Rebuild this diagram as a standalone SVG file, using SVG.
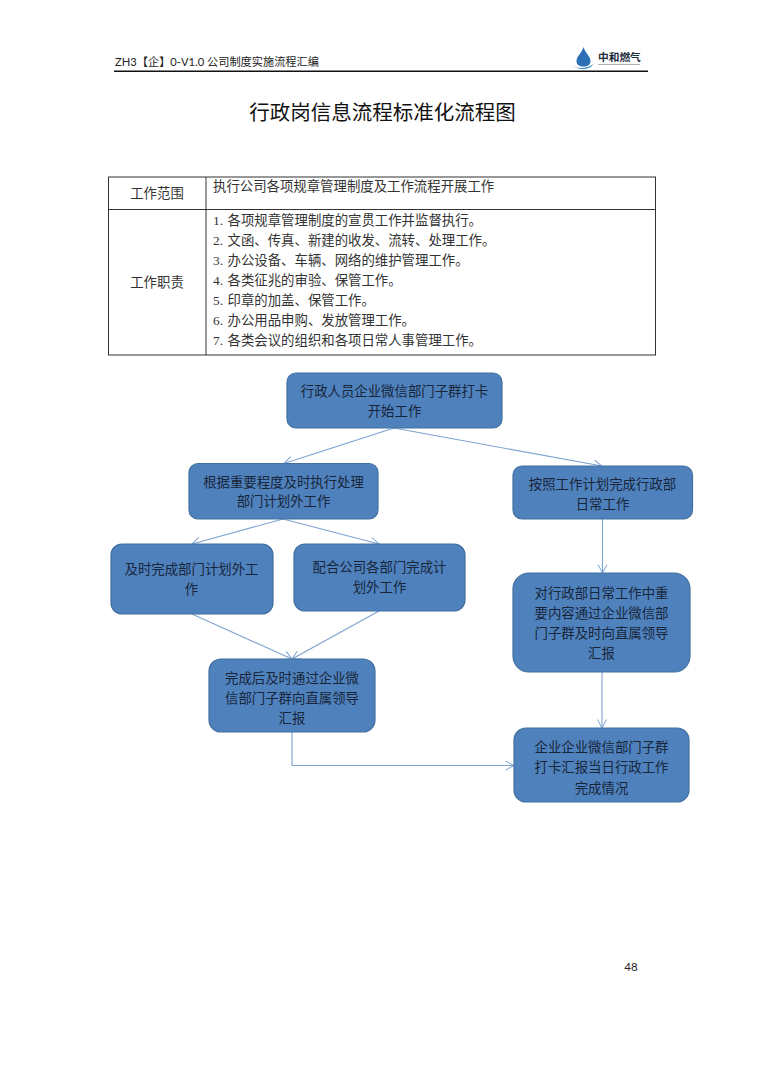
<svg xmlns="http://www.w3.org/2000/svg" width="764" height="1080" viewBox="0 0 764 1080">
<style>
text{font-family:"Noto Sans CJK SC","Liberation Sans",sans-serif;fill:#1f2a36}
.n{fill:#4f81bd;stroke:#41709f;stroke-width:1.2}
.t{font-size:13.4px;text-anchor:middle;fill:#17263a}
.c{font-size:13.4px;fill:#333}
.d{font-family:"Liberation Serif",serif}
.m{font-size:13.4px;text-anchor:middle;fill:#333}
.g{fill:none;stroke:#333;stroke-width:1}
.l{fill:none;stroke:#7ea3cf;stroke-width:1.1;marker-end:url(#a)}
</style>
<defs>
<marker id="a" viewBox="0 0 10 10" refX="9.500" refY="5" markerWidth="10" markerHeight="10" markerUnits="userSpaceOnUse" orient="auto"><path d="M1 0.500L9.500 5L1 9.500" fill="none" stroke="#7ea3cf" stroke-width="1"/></marker>
</defs>
<rect width="764" height="1080" fill="#fff"/>
<g id="header">
<text x="115" y="66" font-size="11.200" style="font-family:'Lato','Noto Sans CJK SC',sans-serif;fill:#222">ZH3【企】0-V1.0 公司制度实施流程汇编</text>
<rect x="114" y="70.500" width="534" height="1.500" fill="#111"/>
<path d="M583.500 47C585 53 590.500 56 590.500 61C590.500 65 587.500 66.500 583.500 66.500C579.500 66.500 576.500 65 576.500 61C576.500 56 582 53 583.500 47Z" fill="#2c6fb5"/>
<path d="M573 65.500C578 69.500 588 68.500 593 64C591 70 579 71 573 65.500Z" fill="#3f8fc9"/>
<text x="598" y="61" font-size="10.700" font-weight="700" style="fill:#1b2b3a">中和燃气</text>
<rect x="598" y="64" width="42" height="1" fill="#aab0b6"/>
</g>
<text x="382.500" y="120" font-size="20.500" text-anchor="middle" style="fill:#111">行政岗信息流程标准化流程图</text>
<g id="table">
<rect class="g" x="108.500" y="177" width="547" height="178"/>
<path class="g" d="M108.500 209.500H655.500M206 177V355"/>
<text class="m" x="157" y="198">工作范围</text>
<text class="m" x="157" y="287">工作职责</text>
<text class="c" x="213" y="191">执行公司各项规章管理制度及工作流程开展工作</text>
<text class="c" x="213" y="225"><tspan class="d">1.</tspan><tspan dx="4.500">各项规章管理制度的宣贯工作并监督执行。</tspan></text>
<text class="c" x="213" y="245"><tspan class="d">2.</tspan><tspan dx="4.500">文函、传真、新建的收发、流转、处理工作。</tspan></text>
<text class="c" x="213" y="265"><tspan class="d">3.</tspan><tspan dx="4.500">办公设备、车辆、网络的维护管理工作。</tspan></text>
<text class="c" x="213" y="285"><tspan class="d">4.</tspan><tspan dx="4.500">各类征兆的审验、保管工作。</tspan></text>
<text class="c" x="213" y="305"><tspan class="d">5.</tspan><tspan dx="4.500">印章的加盖、保管工作。</tspan></text>
<text class="c" x="213" y="325"><tspan class="d">6.</tspan><tspan dx="4.500">办公用品申购、发放管理工作。</tspan></text>
<text class="c" x="213" y="345"><tspan class="d">7.</tspan><tspan dx="4.500">各类会议的组织和各项日常人事管理工作。</tspan></text>
</g>
<g id="connectors">
<path class="l" d="M394 428L284 463.500"/>
<path class="l" d="M394 428L602 466"/>
<path class="l" d="M283 519L192 544"/>
<path class="l" d="M283 519L379 544"/>
<path class="l" d="M192 614L292 659"/>
<path class="l" d="M379 611L292 659"/>
<path class="l" d="M602.500 519V573"/>
<path class="l" d="M602 672V728"/>
<path class="l" d="M292 732V765.500H514"/>
</g>
<g id="n1"><rect class="n" x="287" y="373" width="215" height="55" rx="9"/><text class="t" x="394.500" y="396">行政人员企业微信部门子群打卡</text><text class="t" x="394.500" y="416">开始工作</text></g>
<g id="n2"><rect class="n" x="189" y="463.500" width="189" height="55.500" rx="9"/><text class="t" x="283.500" y="487">根据重要程度及时执行处理</text><text class="t" x="283.500" y="506">部门计划外工作</text></g>
<g id="n3"><rect class="n" x="111" y="544" width="162" height="70" rx="11"/><text class="t" x="191.500" y="574">及时完成部门计划外工</text><text class="t" x="191.500" y="594">作</text></g>
<g id="n4"><rect class="n" x="294" y="544" width="171" height="67" rx="11"/><text class="t" x="379.500" y="572">配合公司各部门完成计</text><text class="t" x="379.500" y="592">划外工作</text></g>
<g id="n5"><rect class="n" x="513" y="466" width="179.500" height="53" rx="9"/><text class="t" x="602.500" y="489">按照工作计划完成行政部</text><text class="t" x="602.500" y="509">日常工作</text></g>
<g id="n6"><rect class="n" x="513" y="573" width="177" height="99" rx="16"/><text class="t" x="601.500" y="598">对行政部日常工作中重</text><text class="t" x="601.500" y="618">要内容通过企业微信部</text><text class="t" x="601.500" y="638">门子群及时向直属领导</text><text class="t" x="601.500" y="658">汇报</text></g>
<g id="n7"><rect class="n" x="209" y="659" width="166" height="73" rx="12"/><text class="t" x="292" y="683">完成后及时通过企业微</text><text class="t" x="292" y="703">信部门子群向直属领导</text><text class="t" x="292" y="723">汇报</text></g>
<g id="n8"><rect class="n" x="514" y="728" width="175" height="74" rx="12"/><text class="t" x="601.500" y="752">企业企业微信部门子群</text><text class="t" x="601.500" y="772">打卡汇报当日行政工作</text><text class="t" x="601.500" y="793">完成情况</text></g>
<text x="631" y="971" font-size="11.500" text-anchor="middle" style="font-family:'Lato',sans-serif;fill:#222">48</text>
</svg>
